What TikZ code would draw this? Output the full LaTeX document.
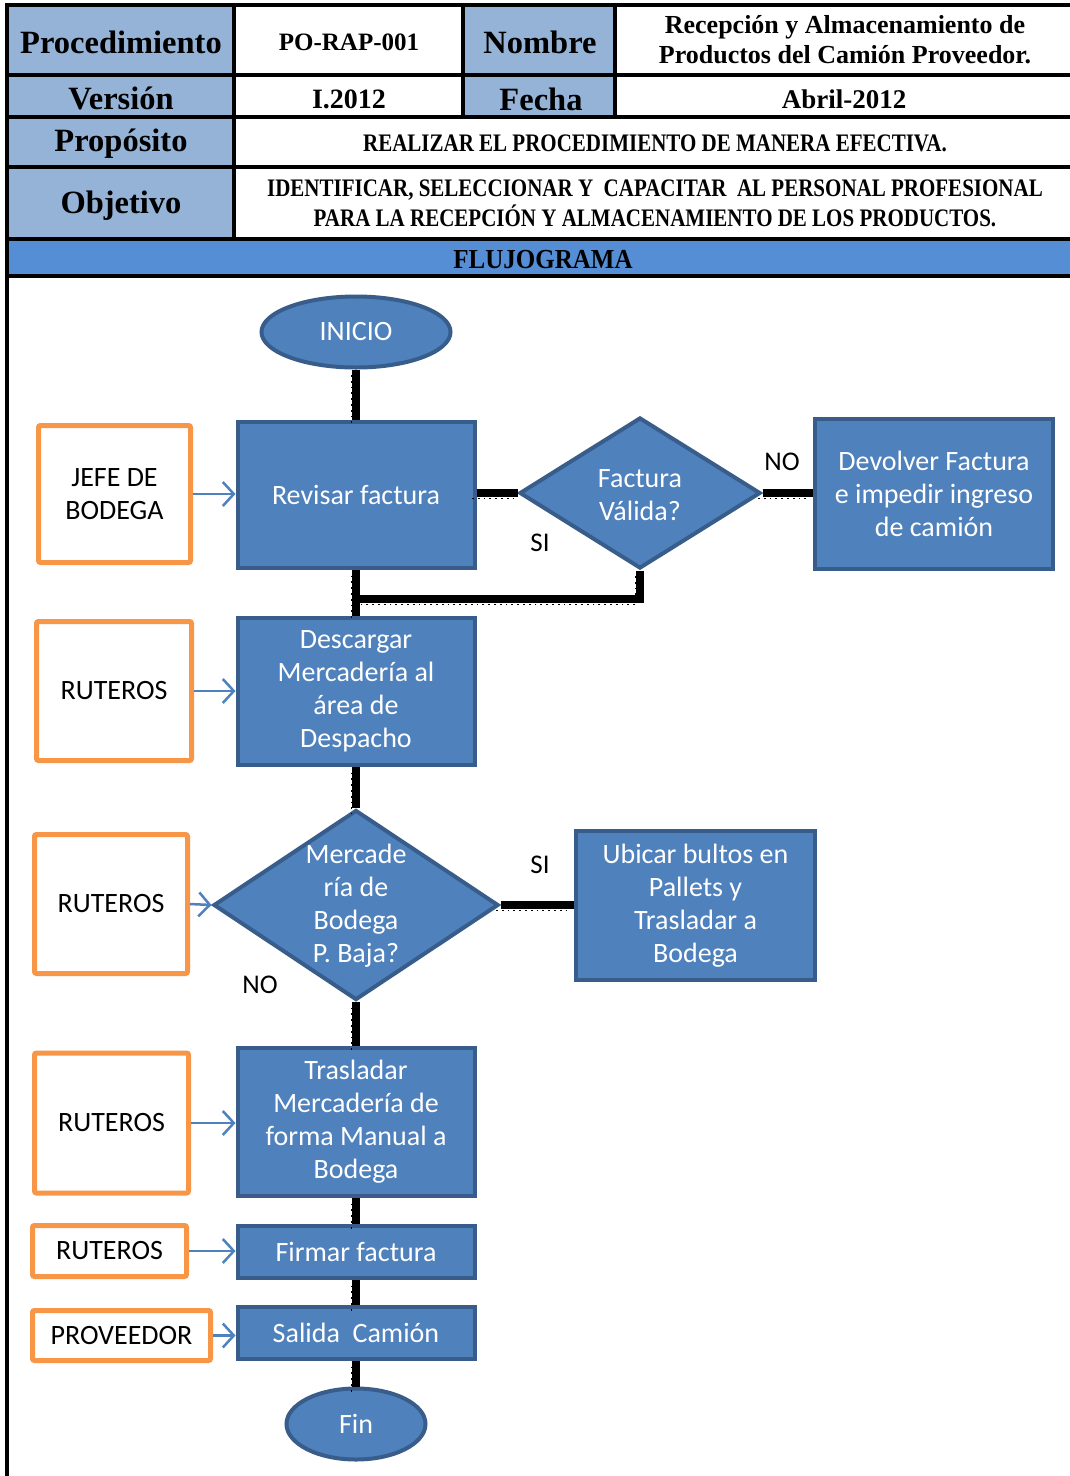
\documentclass[tikz,border=0pt]{standalone}
\usepackage{fontspec}
\usepackage{graphicx}
\setmainfont{Carlito}
\newfontfamily\hdfont{Liberation Serif}
\usetikzlibrary{shapes.geometric,arrows.meta}

\definecolor{hdblue}{HTML}{95B3D7}
\definecolor{barblue}{HTML}{558ED5}
\definecolor{flowfill}{HTML}{4F81BD}
\definecolor{flowedge}{HTML}{385D8A}
\definecolor{orng}{HTML}{F79646}

\newcommand\hsz[2]{\fontsize{#1}{#2}\selectfont}
% taller, narrow-looking lettering for the long header rows
\newcommand\tall[1]{\scalebox{1}[1.2]{\begin{tabular}{@{}c@{}}#1\end{tabular}}}

\tikzset{
  tline/.style={line width=3.5pt, black},
  hdlabel/.style={inner sep=0, font=\hdfont\bfseries\hsz{32.5}{36}},
  hdvalue/.style={inner sep=0, align=center, font=\hdfont\bfseries\hsz{26}{30}},
  hdtext/.style={inner sep=0, align=center, font=\hdfont\bfseries\hsz{21}{23.5}},
  proc/.style={draw=flowedge, fill=flowfill, line width=4pt, text=white,
    align=center, inner sep=0, font=\hsz{28}{33}},
  decision/.style={proc, diamond},
  terminal/.style={proc, ellipse},
  ftext/.style={text=white, align=center, inner sep=0, font=\hsz{28}{33}},
  actor/.style={draw=orng, fill=white, line width=5pt, rounded corners=2pt,
    text=black, align=center, inner sep=0, font=\hsz{28}{33}},
  actarrow/.style={draw=flowfill, line width=2.5pt,
    -{Straight Barb[length=11pt,width=24pt,line width=2.5pt]}},
  conn/.style={line width=8.5pt, black,
    preaction={draw, line width=1.8pt, dash pattern=on 1.8pt off 4pt,
      transform canvas={shift={(-4.5pt,-5.5pt)}}}},
  tag/.style={text=black, inner sep=0, font=\hsz{27}{33}},
}

\begin{document}
\begin{tikzpicture}[x=1pt,y=-1pt]
\useasboundingbox (0,0) rectangle (1070,1476);
\fill[white] (0,0) rectangle (1070,1476);

% ---- header table ----
\fill[hdblue] (7,5) rectangle (234,239);
\fill[hdblue] (463,5) rectangle (615,117);
\fill[barblue] (7,239) rectangle (1070,276);

\foreach \yy in {5,75,117,167,239,276}
  \draw[tline] (5.25,\yy) -- (1070,\yy);
\draw[tline] (7,3.25) -- (7,1476);
\draw[tline] (234,5) -- (234,239);
\draw[tline] (463,5) -- (463,117);
\draw[tline] (615,5) -- (615,117);

\node[hdlabel] (hproc) at (121,42) {Procedimiento};
\node[hdvalue, font=\hdfont\bfseries\hsz{25}{30}] (hcode) at (349,42) {PO-RAP-001};
\node[hdlabel] (hname) at (540,42) {Nombre};
\node[hdvalue] (htitle) at (845,40)
  {Recepción y Almacenamiento de\\Productos del Camión Proveedor.};
\node[hdlabel] (hver) at (121,98) {Versión};
\node[hdvalue, font=\hdfont\bfseries\hsz{28}{30}] (hvernum) at (349,99) {I.2012};
\node[hdlabel] (hdate) at (541,99) {Fecha};
\node[hdvalue, font=\hdfont\bfseries\hsz{27}{30}] (hdateval) at (844,99) {Abril-2012};
\node[hdlabel] (hprop) at (121,144) {Propósito};
\node[hdtext] (hproptxt) at (655,146) {\tall{REALIZAR EL PROCEDIMIENTO DE MANERA EFECTIVA.}};
\node[hdlabel] (hobj) at (121,206) {Objetivo};
\node[hdtext] (hobjtxt) at (655,206)
  {\tall{IDENTIFICAR, SELECCIONAR Y \ CAPACITAR \ AL PERSONAL PROFESIONAL\\
   PARA LA RECEPCIÓN Y ALMACENAMIENTO DE LOS PRODUCTOS.}};
\node[hdvalue, font=\hdfont\bfseries\hsz{25}{30}] (hflow) at (543,260)
  {\scalebox{1}[1.1]{FLUJOGRAMA}};

% ---- flowchart nodes ----
\node[terminal, minimum width=189pt, minimum height=71pt] (ini) at (356,332) {INICIO};
\node[proc, minimum width=237pt, minimum height=146pt] (rev) at (356,495) {Revisar factura};
\node[decision, minimum width=241pt, minimum height=151pt] (fv) at (640,493) {};
\node[ftext] (fvtxt) at (640,495) {Factura\\Válida?};
\node[proc, minimum width=238pt, minimum height=150pt] (dev) at (934,494)
  {Devolver Factura\\e impedir ingreso\\de camión};
\node[proc, minimum width=237pt, minimum height=147pt] (desc) at (356,691.5)
  {Descargar\\Mercadería al\\área de\\Despacho};
\node[decision, minimum width=285pt, minimum height=190pt] (mb) at (356,905) {};
\node[ftext] (mbtxt) at (356,906) {Mercade\\ría de\\Bodega\\P. Baja?};
\node[proc, minimum width=239pt, minimum height=149pt] (ubi) at (695.5,905.5)
  {Ubicar bultos en\\Pallets y\\Trasladar a\\Bodega};
\node[proc, minimum width=237pt, minimum height=148pt] (tras) at (356,1122)
  {Trasladar\\Mercadería de\\forma Manual a\\Bodega};
\node[proc, minimum width=237pt, minimum height=52pt] (firm) at (356,1252) {Firmar factura};
\node[proc, minimum width=237pt, minimum height=52pt] (sal) at (356,1333) {Salida \ Camión};
\node[terminal, minimum width=139pt, minimum height=71pt] (fin) at (356,1424) {Fin};

% ---- responsible roles ----
\node[actor, minimum width=152pt, minimum height=137pt] (a1) at (114.5,494) {JEFE DE\\BODEGA};
\node[actor, minimum width=155pt, minimum height=139pt] (a2) at (114,691) {RUTEROS};
\node[actor, minimum width=153pt, minimum height=139pt] (a3) at (111,904) {RUTEROS};
\node[actor, minimum width=154pt, minimum height=140pt] (a4) at (111.5,1123) {RUTEROS};
\node[actor, minimum width=154pt, minimum height=51pt] (a5) at (109.5,1251) {RUTEROS};
\node[actor, minimum width=178pt, minimum height=50pt] (a6) at (121.5,1335.5) {PROVEEDOR};

\draw[actarrow] (a1.east) -- (rev.west |- a1.east);
\draw[actarrow] (a2.east) -- (desc.west |- a2.east);
\draw[actarrow] (a3.east) -- (mb.west);
\draw[actarrow] (a4.east) -- (tras.west |- a4.east);
\draw[actarrow] (a5.east) -- (firm.west |- a5.east);
\draw[actarrow] (a6.east) -- (sal.west |- a6.east);

% ---- flow connectors ----
\coordinate (join) at (356,599);
\draw[conn] (ini.south) -- (rev.north);
\draw[conn] (rev.east |- fv.west) -- (fv.west);
\draw[conn] (fv.east) -- (dev.west |- fv.east);
\draw[conn] (fv.south) |- (join);
\draw[conn] (rev.south) -- (desc.north);
\draw[conn] (desc.south) -- (mb.north);
\draw[conn] (mb.east) -- (ubi.west |- mb.east);
\draw[conn] (mb.south) -- (tras.north);
\draw[conn] (tras.south) -- (firm.north);
\draw[conn] (firm.south) -- (sal.north);
\draw[conn] (sal.south) -- (fin.north);

\node[tag] (no1) at (782,462) {NO};
\node[tag] (si1) at (540,543) {SI};
\node[tag] (si2) at (540,865) {SI};
\node[tag] (no2) at (260,985) {NO};
\end{tikzpicture}
\end{document}
